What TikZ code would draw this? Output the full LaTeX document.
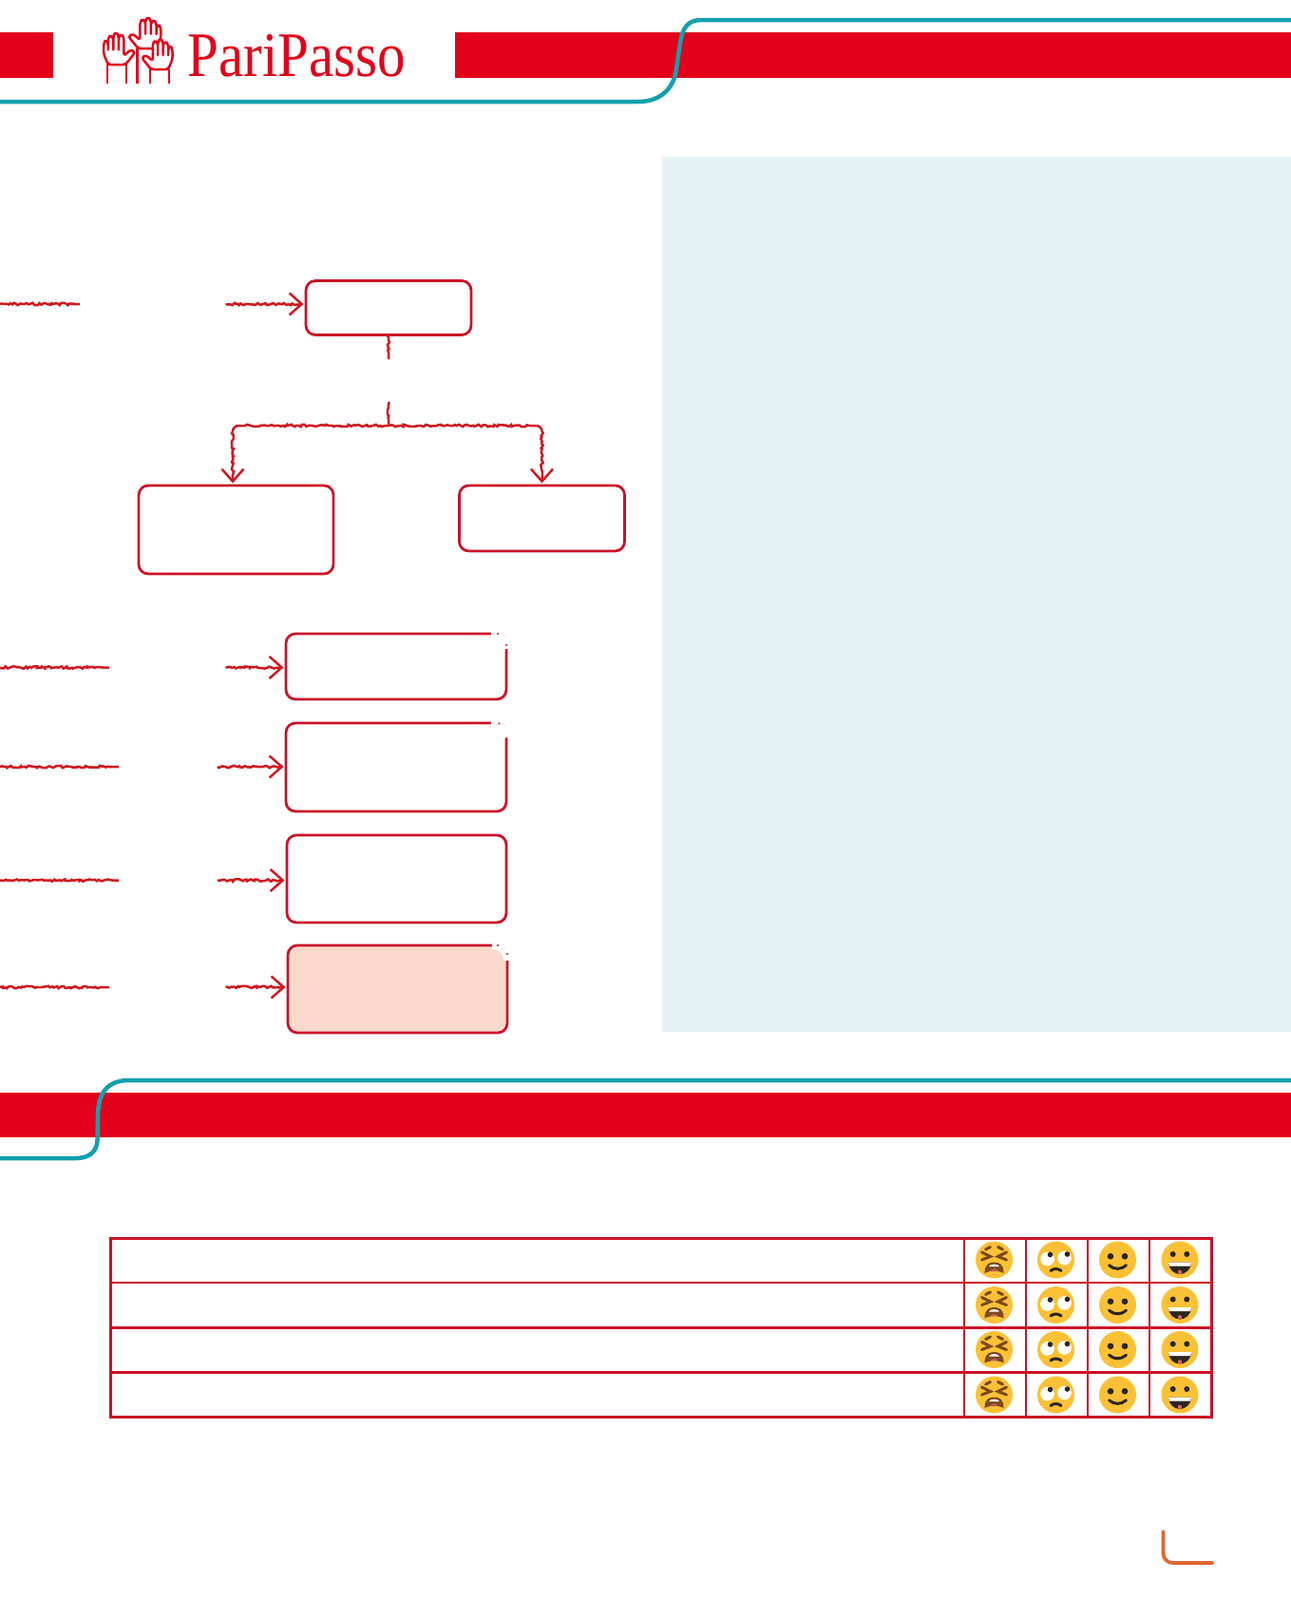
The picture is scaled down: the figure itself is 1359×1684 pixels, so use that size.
\documentclass[tikz,border=0pt]{standalone}
\usepackage{fontspec}
\setmainfont{Liberation Serif}
\usetikzlibrary{arrows.meta,decorations.pathmorphing}
\definecolor{bandred}{HTML}{E2001A}
\definecolor{boxred}{HTML}{CB1128}
\definecolor{roughred}{HTML}{D01820}
\definecolor{bandteal}{HTML}{12A0AE}
\definecolor{panelblue}{HTML}{E4F2F3}
\definecolor{boxpeach}{HTML}{FCD9CC}
\definecolor{cornerorange}{HTML}{E0662F}
\definecolor{facegold}{HTML}{FBC136}
\definecolor{eyedark}{HTML}{2B2620}
\definecolor{mouthbrown}{HTML}{7A4A1E}
\definecolor{tonguepink}{HTML}{D9626A}
\tikzset{
    pics/raisedhand/.style={code={
        \fill[white] (-11,0) rectangle (11,#1);
        \draw[handline] (-11,#1) -- (-11,0) -- (11,0) -- (11,#1);
        \draw[handline, fill=white, rounded corners=1.6] (-10,0) -- (-15,-11) -- (-15,-23) -- (-12.5,-26) -- (-10,-23) -- (-10,-14) -- (-10,-28) -- (-7,-31) -- (-4,-28) -- (-4,-14) -- (-4,-31) -- (-1,-34) -- (2,-31) -- (2,-14) -- (2,-29) -- (5,-32) -- (8,-29) -- (8,-9) -- (16,-16) -- (21,-13) -- (10,0) -- cycle;
    }},
    pics/tiredface/.style={code={
        \fill[facegold] (0,0) circle[radius=19.5];
        \draw[faceline, mouthbrown] (-13,-8) -- (-4,-3.5) -- (-13,0);
        \draw[faceline, mouthbrown] (13,-8) -- (4,-3.5) -- (13,0);
        \draw[faceline, mouthbrown] (-9,-11) -- (-4,-13.5);
        \draw[faceline, mouthbrown] (9,-11) -- (4,-13.5);
        \fill[mouthbrown] (-10,14) .. controls (-10,4) and (-5,2.5) .. (0,2.5) .. controls (5,2.5) and (10,4) .. (10,14) .. controls (5,11) and (-5,11) .. (-10,14) -- cycle;
        \fill[white] (-5.5,7) .. controls (-4,3.8) and (4,3.8) .. (5.5,7) -- cycle;
        \fill[tonguepink] (-4.5,11.8) .. controls (-2,9) and (2,9) .. (4.5,11.8) .. controls (2,11) and (-2,11) .. (-4.5,11.8) -- cycle;
    }},
    pics/rollface/.style={code={
        \fill[facegold] (0,0) circle[radius=19.5];
        \fill[white] (-9,-1) circle[radius=7.3];
        \fill[white] (9,-2) circle[radius=7.3];
        \fill[eyedark] (-6,-5.5) circle[radius=2.8];
        \fill[eyedark] (12,-6) circle[radius=2.8];
        \draw[faceline, eyedark] (-5.5,11.5) .. controls (-2.5,8.8) and (2.5,8.8) .. (5.5,11.5);
    }},
    pics/smileface/.style={code={
        \fill[facegold] (0,0) circle[radius=19.5];
        \fill[eyedark] (-7.5,-3.7) circle[radius=3.3];
        \fill[eyedark] (7.5,-3.7) circle[radius=3.3];
        \draw[faceline, eyedark] (-9,5.7) .. controls (-4,10.5) and (4,10.5) .. (9,5.7);
    }},
    pics/grinface/.style={code={
        \fill[facegold] (0,0) circle[radius=19.5];
        \fill[eyedark] (-7.3,-6) circle[radius=3];
        \fill[eyedark] (7.3,-6) circle[radius=3];
        \fill[eyedark] (-12,2.5) -- (12,2.5) .. controls (12,10) and (6,15) .. (0,15) .. controls (-6,15) and (-12,10) .. (-12,2.5) -- cycle;
        \fill[white] (-12,2.5) -- (12,2.5) -- (11.3,6.5) -- (-11.3,6.5) -- cycle;
        \fill[tonguepink] (0,12.8) circle[radius=2.2];
    }},
}

\begin{document}
\begin{tikzpicture}[x=0.02cm, y=-0.02cm, >={Straight Barb[length=0.26cm, width=0.46cm]},
        flowbox/.style={draw=boxred, line width=0.055cm, rounded corners=0.2cm, inner sep=0, outer sep=0},
        roughline/.style={draw=roughred, line width=0.05cm, decorate, decoration={random steps, segment length=1.2pt, amplitude=0.7pt, post length=4pt}},
        tipline/.style={roughline, ->, shorten >=0.05cm},
        bendline/.style={draw=roughred, line width=0.05cm},
        cornergap/.style={draw=white, line width=0.16cm},
        tablegrid/.style={draw=boxred, line width=0.05cm},
        tealline/.style={draw=bandteal, line width=0.09cm},
        handline/.style={draw=bandred, line width=0.05cm, line join=round},
        faceline/.style={line width=0.06cm, line cap=round}]
        \useasboundingbox (0,0) rectangle (1359,1684);

        \fill[bandred] (0,33.5) rectangle (56,81.5);
        \fill[bandred] (479,33.5) rectangle (1359,81.5);
        \fill[bandred] (0,1150) rectangle (1359,1197);
        \fill[panelblue] (697,165) rectangle (1359,1086);

        \draw[tealline] (0,107) -- (672,107) .. controls (696,107) and (710,92) .. (712,72) -- (716,45) .. controls (718,30) and (724,21) .. (738,21) -- (1359,21);
        \draw[tealline] (0,1219) -- (80,1219) .. controls (94,1219) and (102,1212) .. (102.5,1200) -- (103,1172) .. controls (104,1148) and (115,1137) .. (136,1137) -- (1359,1137);

        \pic[xscale=-0.95, yscale=0.97] at (155,51) {raisedhand={38}};
        \pic[xscale=0.92] at (123,68) {raisedhand={20}};
        \pic[xscale=-0.9, yscale=0.95] at (168,73) {raisedhand={16}};
        \node[anchor=base west, inner sep=0, text=bandred, font=\fontsize{38}{38}\selectfont] (logotext) at (197,80.5) {\scalebox{0.885}[1]{PariPasso}};

        \node[flowbox, minimum width=3.48cm, minimum height=1.14cm] (boxA) at (409,324) {};
        \node[flowbox, minimum width=4.1cm, minimum height=1.86cm] (boxB) at (248.5,557.5) {};
        \node[flowbox, minimum width=3.48cm, minimum height=1.38cm] (boxC) at (570.5,545.5) {};
        \node[flowbox, minimum width=4.64cm, minimum height=1.38cm] (boxD) at (417,701.5) {};
        \node[flowbox, minimum width=4.64cm, minimum height=1.86cm] (boxE) at (417,807.5) {};
        \node[flowbox, minimum width=4.62cm, minimum height=1.84cm] (boxF) at (417.5,925) {};
        \node[flowbox, fill=boxpeach, minimum width=4.62cm, minimum height=1.84cm] (boxG) at (418.5,1041) {};

        \draw[cornergap] ([xshift=-0.32cm]boxD.north east) arc[start angle=90, end angle=0, radius=0.32cm];
        \draw[cornergap] ([xshift=-0.32cm]boxE.north east) arc[start angle=90, end angle=0, radius=0.32cm];
        \draw[cornergap] ([xshift=-0.32cm]boxG.north east) arc[start angle=90, end angle=0, radius=0.32cm];
        \fill[boxred] (524,667) circle[radius=1.1];
        \fill[boxred] (533,679) circle[radius=1.1];
        \fill[boxred] (525.5,761.5) circle[radius=1.1];
        \fill[boxred] (533,777) circle[radius=1.1];
        \fill[boxred] (524,995) circle[radius=1.1];
        \fill[boxred] (534,1004) circle[radius=1.1];

        \coordinate (leftA) at (0,320);
        \coordinate (stopA) at (84,320);
        \coordinate (startA) at (237.5,320);
        \coordinate (leftD) at (0,702.5);
        \coordinate (stopD) at (115,702.5);
        \coordinate (startD) at (237.5,702.5);
        \coordinate (leftE) at (0,807);
        \coordinate (stopE) at (125,807);
        \coordinate (startE) at (229,807);
        \coordinate (leftF) at (0,926.5);
        \coordinate (stopF) at (125,926.5);
        \coordinate (startF) at (229,926.5);
        \coordinate (leftG) at (0,1039);
        \coordinate (stopG) at (115,1039);
        \coordinate (startG) at (237.5,1039);
        \coordinate (stubtop) at (409,378);
        \coordinate (stubbot) at (409,423);
        \coordinate (split) at (409,448);
        \coordinate (bendB) at (251,448);
        \coordinate (turnB) at (245,454);
        \coordinate (bendC) at (564.5,448);
        \coordinate (turnC) at (570.5,454);

        \draw[roughline] (leftA) -- (stopA);
        \draw[tipline] (startA) -- (startA -| boxA.west);
        \draw[roughline] (leftD) -- (stopD);
        \draw[tipline] (startD) -- (startD -| boxD.west);
        \draw[roughline] (leftE) -- (stopE);
        \draw[tipline] (startE) -- (startE -| boxE.west);
        \draw[roughline] (leftF) -- (stopF);
        \draw[tipline] (startF) -- (startF -| boxF.west);
        \draw[roughline] (leftG) -- (stopG);
        \draw[tipline] (startG) -- (startG -| boxG.west);
        \draw[roughline] (boxA.south) -- (stubtop);
        \draw[roughline] (stubbot) -- (split);
        \draw[roughline] (split) -- (bendB);
        \draw[bendline] (bendB) to[out=180, in=90] (turnB);
        \draw[tipline] (turnB) -- (turnB |- boxB.north);
        \draw[roughline] (split) -- (bendC);
        \draw[bendline] (bendC) to[out=0, in=90] (turnC);
        \draw[tipline] (turnC) -- (boxC.north);

        \draw[tablegrid] (116.5,1303.5) rectangle (1275.5,1491.5);
        \draw[tablegrid] (116.5,1350) -- (1275.5,1350);
        \draw[tablegrid] (116.5,1397.5) -- (1275.5,1397.5);
        \draw[tablegrid] (116.5,1444.5) -- (1275.5,1444.5);
        \draw[tablegrid] (1015,1303.5) -- (1015,1491.5);
        \draw[tablegrid] (1080,1303.5) -- (1080,1491.5);
        \draw[tablegrid] (1145,1303.5) -- (1145,1491.5);
        \draw[tablegrid] (1210,1303.5) -- (1210,1491.5);

        \pic at (1046.5,1326) {tiredface};
        \pic at (1111.5,1326) {rollface};
        \pic at (1176.5,1326) {smileface};
        \pic at (1242,1326) {grinface};
        \pic at (1046.5,1373.5) {tiredface};
        \pic at (1111.5,1373.5) {rollface};
        \pic at (1176.5,1373.5) {smileface};
        \pic at (1242,1373.5) {grinface};
        \pic at (1046.5,1420.5) {tiredface};
        \pic at (1111.5,1420.5) {rollface};
        \pic at (1176.5,1420.5) {smileface};
        \pic at (1242,1420.5) {grinface};
        \pic at (1046.5,1468) {tiredface};
        \pic at (1111.5,1468) {rollface};
        \pic at (1176.5,1468) {smileface};
        \pic at (1242,1468) {grinface};

        \draw[draw=cornerorange, line width=0.075cm, line cap=round, rounded corners=0.2cm] (1224.5,1612) -- (1224.5,1645) -- (1276.5,1645);
    \end{tikzpicture}
\end{document}
